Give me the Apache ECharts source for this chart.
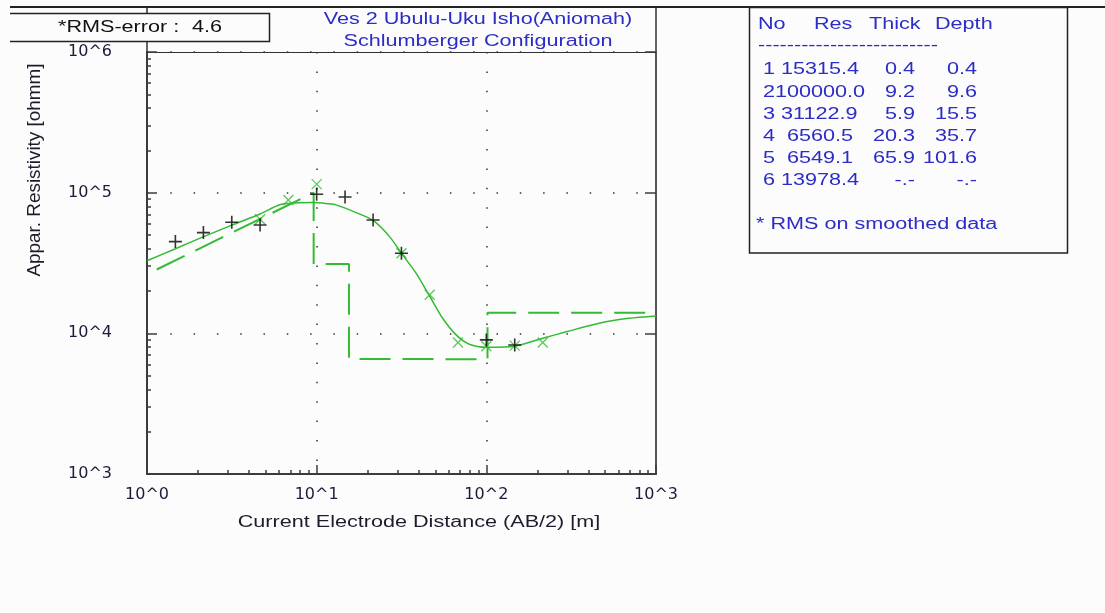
<!DOCTYPE html>
<html>
<head>
<meta charset="utf-8">
<script src="https://cdn.jsdelivr.net/npm/echarts@6/dist/echarts.min.js"></script>
<style>
  html, body { margin: 0; padding: 0; background: #fcfcfc; }
  #main { width: 1105px; height: 613px; }
</style>
</head>
<body>
<div id="main"></div>
<script>
// measured data (black +)
const fieldAB = [1.47, 2.15, 3.16, 4.64, 10, 14.7, 21.5, 31.6, 100, 147]
const fieldRho = [44900, 52000, 61600, 58900, 97500, 93200, 63900, 37100, 8980, 8270]

// smoothed data (green x)
const smoothAB = [4.64, 6.81, 10, 31.6, 46.4, 68.1, 100, 147, 215]
const smoothRho = [64700, 88800, 115000, 37100, 18800, 8600, 8100, 8180, 8600]

// model response curve
const curveAB = [1, 1.46, 2.14, 3.19, 4.64, 6.05, 7.5, 9.5, 11.6, 13, 17.5, 21.6, 26.9, 31.6, 38.6, 46.2, 55.3, 66.4, 79.4, 100, 147, 215, 300, 462, 693, 1000]
const curveRho = [32800, 39800, 48500, 59000, 70500, 82000, 84500, 85000, 83500, 81900, 71300, 63200, 48700, 37100, 26700, 18500, 12800, 9750, 8370, 7960, 8100, 9230, 10300, 11800, 12800, 13300]

// layer model
const layerNo = [1, 2, 3, 4, 5, 6]
const layerRes = [15315.4, 100000.0, 31122.9, 6560.5, 6549.1, 13978.4]
const layerThick = [0.4, 9.2, 5.9, 20.3, 65.9]
const layerDepth = [0.4, 9.6, 15.5, 35.7, 101.6]

const rmsError = 4.6
const titleLines = ['Ves 2 Ubulu-Uku Isho(Aniomah)', 'Schlumberger Configuration']

const GREEN = '#33bb33'
const BLUE = '#2c2cc6'
const FONT = '16px "Liberation Sans", Arial, sans-serif'
const SX = 1.35 // the reference text is drawn wide

const chart = echarts.init(document.getElementById('main'))

const zip = (xs, ys) => xs.map((x, i) => [x, ys[i]])

// step line of the layer model (first step is drawn slanted, as in the picture)
const stepLine = [[layerDepth[0], layerRes[0]]]
for (let i = 1; i < layerDepth.length; i++) {
  stepLine.push([layerDepth[i], layerRes[i]], [layerDepth[i], layerRes[i + 1]])
}
stepLine.push([1000, layerRes[layerRes.length - 1]])

const minorTicks = (lo, hi) => {
  const out = []
  for (let d = lo; d < hi; d *= 10) for (let k = 2; k <= 9; k++) out.push(k * d)
  return out
}
const powLabel = v => '10^' + Math.round(Math.log10(v))
const tickLabel = { fontFamily: 'DejaVu Sans', fontSize: 16, color: '#1c1c3a' }
const frame = { color: '#3c3c3c', width: 2 }

// text blocks
const txt = (text, x, y, opt = {}) => ({
  type: 'text', x, y, scaleX: opt.sx || SX, scaleY: opt.sy || 1, rotation: opt.rot || 0, z: 10,
  style: { text, font: FONT, fill: opt.color || '#111', textAlign: opt.align || 'left', textVerticalAlign: 'middle' }
})
const fmt = v => v.toFixed(1)
const tableRows = layerNo.map((n, i) => {
  const y = 70 + i * 22.2
  return [
    txt(String(n) + fmt(layerRes[i]).padStart(8, ' '), 763, y, { color: BLUE }),
    txt(i < layerThick.length ? fmt(layerThick[i]) : '-.-', 915, y, { color: BLUE, align: 'right' }),
    txt(i < layerDepth.length ? fmt(layerDepth[i]) : '-.-', 977, y, { color: BLUE, align: 'right' })
  ]
}).flat()

const graphic = [
  { type: 'line', shape: { x1: 10, y1: 7, x2: 1105, y2: 7 }, style: { stroke: '#222', lineWidth: 2 } },
  { type: 'line', shape: { x1: 147, y1: 7, x2: 147, y2: 52 }, style: { stroke: '#333', lineWidth: 1.5 } },
  { type: 'line', shape: { x1: 656, y1: 7, x2: 656, y2: 52 }, style: { stroke: '#333', lineWidth: 1.5 } },
  { type: 'rect', shape: { x: 10, y: 13, width: 260, height: 28 }, style: { fill: '#fcfcfc' }, z: 5 },
  { type: 'polyline', shape: { points: [[10, 13.5], [269.5, 13.5], [269.5, 41.5], [10, 41.5]] }, style: { stroke: '#222', lineWidth: 1.5, fill: null }, z: 6 },
  txt('*RMS-error :', 58, 28),
  txt(String(rmsError), 192, 28),
  txt(titleLines[0], 478, 20, { color: BLUE, align: 'center' }),
  txt(titleLines[1], 478, 42, { color: BLUE, align: 'center' }),
  { type: 'rect', shape: { x: 749.5, y: 7.5, width: 318, height: 245.5 }, style: { fill: null, stroke: '#222', lineWidth: 1.5 } },
  txt('No', 758, 25, { color: BLUE }),
  txt('Res', 814, 25, { color: BLUE }),
  txt('Thick', 869, 25, { color: BLUE }),
  txt('Depth', 935, 25, { color: BLUE }),
  txt('-------------------------', 758, 46, { color: BLUE }),
  ...tableRows,
  txt('* RMS on smoothed data', 756, 225, { color: BLUE }),
  txt('Current Electrode Distance (AB/2) [m]', 419, 523, { align: 'center', color: '#1c1c2c' }),
  txt('Appar. Resistivity [ohmm]', 35, 170, { align: 'center', rot: Math.PI / 2, sx: 1.18, sy: 1.15, color: '#1c1c2c' })
]

const option = {
  backgroundColor: '#fcfcfc',
  animation: false,
  grid: { left: 147, top: 52, width: 509, height: 422 },
  xAxis: [
    {
      type: 'log', min: 1, max: 1000, position: 'bottom',
      axisLine: { lineStyle: frame },
      axisTick: { inside: true, length: 9, lineStyle: { color: '#3c3c3c', width: 1.5 } },
      axisLabel: { ...tickLabel, formatter: powLabel, margin: 13 },
      splitLine: { show: true, lineStyle: { color: '#333', width: 1.5, type: [1.5, 17.9] } }
    },
    {
      type: 'log', min: 1, max: 1000, position: 'bottom',
      axisLine: { show: false }, axisLabel: { show: false }, splitLine: { show: false },
      axisTick: { show: true, inside: true, length: 4, customValues: minorTicks(1, 1000), lineStyle: { color: '#3c3c3c', width: 1.5 } }
    },
    {
      type: 'log', min: 1, max: 1000, position: 'top',
      axisLine: { lineStyle: { color: '#333', width: 1 } },
      axisTick: { show: false }, axisLabel: { show: false }, splitLine: { show: false }
    }
  ],
  yAxis: [
    {
      type: 'log', min: 1000, max: 1000000, position: 'left',
      axisLine: { lineStyle: frame },
      axisTick: { inside: true, length: 10, lineStyle: { color: '#3c3c3c', width: 1.5 } },
      axisLabel: { ...tickLabel, formatter: powLabel, margin: 35 },
      splitLine: { show: true, lineStyle: { color: '#333', width: 1.5, type: [1.5, 21.8] } }
    },
    {
      type: 'log', min: 1000, max: 1000000, position: 'left',
      axisLine: { show: false }, axisLabel: { show: false }, splitLine: { show: false },
      axisTick: { show: true, inside: true, length: 4, customValues: minorTicks(1000, 1000000), lineStyle: { color: '#3c3c3c', width: 1.5 } }
    },
    {
      type: 'log', min: 1000, max: 1000000, position: 'right',
      axisLine: { lineStyle: { color: '#555', width: 2 } },
      axisTick: { inside: true, length: 11, lineStyle: { color: '#3c3c3c', width: 1.5 } },
      axisLabel: { show: false }, splitLine: { show: false }
    }
  ],
  series: [
    {
      type: 'line', data: stepLine, showSymbol: false, clip: true,
      lineStyle: { color: GREEN, width: 2, type: [31, 12] }, z: 3
    },
    {
      type: 'line', data: zip(curveAB, curveRho), showSymbol: false, smooth: 0.25, clip: true,
      lineStyle: { color: GREEN, width: 1.5 }, z: 4
    },
    {
      type: 'scatter', data: zip(smoothAB, smoothRho),
      symbol: 'path://M0,0L10,10M10,0L0,10', symbolSize: 10,
      itemStyle: { color: GREEN, borderColor: GREEN, borderWidth: 1.3 }, z: 5
    },
    {
      type: 'scatter', data: zip(fieldAB, fieldRho),
      symbol: 'path://M5,0L5,10M0,5L10,5', symbolSize: 13,
      itemStyle: { color: '#000', borderColor: '#000', borderWidth: 1.6 }, z: 6
    }
  ],
  graphic
}

chart.setOption(option)
</script>
</body>
</html>
